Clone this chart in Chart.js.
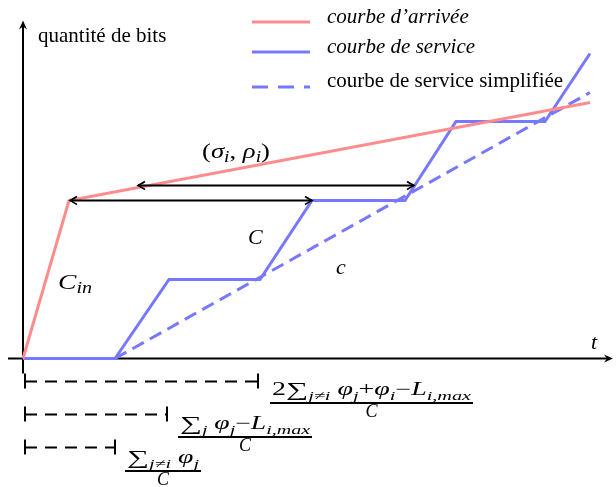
<!DOCTYPE html>
<html>
<head>
<meta charset="utf-8">
<script src="https://cdn.jsdelivr.net/npm/chart.js@4.4.1/dist/chart.umd.min.js"></script>
<style>
  body { margin: 0; background: #fff; }
  #wrap { width: 616px; height: 487px; }
</style>
</head>
<body>
<div id="wrap"><canvas id="courbes"></canvas></div>
<script>
// curves (x = time, y = bits), origin at the axes crossing
var arriveeX = [0, 46, 567];
var arriveeY = [0, 158, 256];
var serviceX = [0, 92, 146, 237, 289, 382, 433, 522, 567];
var serviceY = [0, 0, 79, 79, 158, 158, 237, 237, 305];
var simpleX = [92, 567];
var simpleY = [0, 266];

// double arrows between the curves
var fleches = [
  { x1: 47, x2: 289, y: 158 },
  { x1: 115, x2: 391, y: 173 }
];
// delay brackets under the time axis
var delaisX = [235, 144, 92];
var delaisY = [-23, -56, -89];

var legendeTextes = ['courbe d\u2019arrivée', 'courbe de service', 'courbe de service simplifiée'];

var rouge = 'rgb(255,140,140)';
var bleu = 'rgb(120,120,255)';

function pts(xs, ys) {
  return xs.map(function(x, i) { return { x: x, y: ys[i] }; });
}

var SERIF = '"Liberation Serif", "DejaVu Serif", serif';

function runFont(s, size) {
  if (s === 'r') return size + 'px ' + SERIF;
  if (s === 'i') return 'italic ' + size + 'px ' + SERIF;
  if (s === 'S') return Math.round(size * 1.1) + 'px ' + SERIF;
  return 'italic ' + Math.round(size * 0.72) + 'px ' + SERIF;
}

function runsWidth(ctx, runs, size) {
  var w = 0;
  runs.forEach(function(r) { ctx.font = runFont(r[1], size); w += ctx.measureText(r[0]).width; });
  return w;
}

// draws math-like text, fitted horizontally to the given width
function drawRuns(ctx, runs, x, y, size, width) {
  var w = runsWidth(ctx, runs, size);
  var k = width ? width / w : 1;
  ctx.save();
  ctx.translate(x, y);
  ctx.scale(k, 1);
  var cx = 0;
  runs.forEach(function(r) {
    var s = r[1];
    ctx.font = runFont(s, size);
    var dy = s === 's' ? size * 0.28 : (s === 'S' ? 1 : 0);
    ctx.fillText(r[0], cx, dy);
    cx += ctx.measureText(r[0]).width;
  });
  ctx.restore();
}

function arrowHead(ctx, x, y, dir) {
  ctx.beginPath();
  ctx.moveTo(x + dir * 7, y - 4);
  ctx.quadraticCurveTo(x + dir * 2, y - 1, x, y);
  ctx.quadraticCurveTo(x + dir * 2, y + 1, x + dir * 7, y + 4);
  ctx.stroke();
}

function stealth(ctx, x, y, angle) {
  ctx.save();
  ctx.translate(x, y);
  ctx.rotate(angle);
  ctx.beginPath();
  ctx.moveTo(0, 0);
  ctx.lineTo(-9, -4);
  ctx.lineTo(-6, 0);
  ctx.lineTo(-9, 4);
  ctx.closePath();
  ctx.fill();
  ctx.restore();
}

var decor = {
  id: 'decor',
  beforeDatasetsDraw: function(chart) {
    var ctx = chart.ctx, sx = chart.scales.x, sy = chart.scales.y;
    var ox = sx.getPixelForValue(0), oy = sy.getPixelForValue(0);
    ctx.save();
    ctx.strokeStyle = '#000';
    ctx.fillStyle = '#000';
    ctx.lineWidth = 2;
    // y axis
    var top = sy.getPixelForValue(338);
    ctx.beginPath(); ctx.moveTo(ox, sy.getPixelForValue(-15)); ctx.lineTo(ox, top + 4); ctx.stroke();
    stealth(ctx, ox, top, -Math.PI / 2);
    // x axis
    var right = sx.getPixelForValue(590);
    ctx.beginPath(); ctx.moveTo(sx.getPixelForValue(-15), oy); ctx.lineTo(right - 4, oy); ctx.stroke();
    stealth(ctx, right, oy, 0);
    ctx.restore();
  },
  afterDatasetsDraw: function(chart) {
    var ctx = chart.ctx, sx = chart.scales.x, sy = chart.scales.y;
    ctx.save();
    ctx.strokeStyle = '#000';
    ctx.fillStyle = '#000';
    ctx.lineWidth = 2;
    fleches.forEach(function(f) {
      var a = sx.getPixelForValue(f.x1), b = sx.getPixelForValue(f.x2), y = sy.getPixelForValue(f.y);
      ctx.beginPath(); ctx.moveTo(a, y); ctx.lineTo(b, y); ctx.stroke();
      ctx.lineWidth = 1.5;
      arrowHead(ctx, a, y, 1);
      arrowHead(ctx, b, y, -1);
      ctx.lineWidth = 2;
    });

    // brackets
    var x0 = sx.getPixelForValue(2);
    delaisX.forEach(function(d, i) {
      var y = sy.getPixelForValue(delaisY[i]), x1 = sx.getPixelForValue(d);
      ctx.setLineDash([]);
      ctx.beginPath();
      ctx.moveTo(x0, y - 8); ctx.lineTo(x0, y + 7);
      ctx.moveTo(x1, y - 8); ctx.lineTo(x1, y + 7);
      ctx.stroke();
      ctx.setLineDash([12, 8]);
      ctx.beginPath(); ctx.moveTo(x0, y); ctx.lineTo(x1, y); ctx.stroke();
    });
    ctx.setLineDash([]);

    // fractions
    ctx.textBaseline = 'alphabetic';
    var fractions = [
      { left: 270, right: 473, num: 395, bar: 403, den: 417,
        runs: [['2', 'r'], ['\u2211', 'S'], ['j\u2260i', 's'], [' ', 'r'], ['\u03c6', 'i'], ['j', 's'], ['+', 'r'], ['\u03c6', 'i'], ['i', 's'], ['\u2212', 'r'], ['L', 'i'], ['i,max', 's']] },
      { left: 178, right: 312, num: 429, bar: 437, den: 451,
        runs: [['\u2211', 'S'], ['j', 's'], [' ', 'r'], ['\u03c6', 'i'], ['j', 's'], ['\u2212', 'r'], ['L', 'i'], ['i,max', 's']] },
      { left: 125, right: 201, num: 463, bar: 471, den: 485,
        runs: [['\u2211', 'S'], ['j\u2260i', 's'], [' ', 'r'], ['\u03c6', 'i'], ['j', 's']] }
    ];
    fractions.forEach(function(f) {
      drawRuns(ctx, f.runs, f.left + 2, f.num, 18, f.right - f.left - 4);
      ctx.lineWidth = 2;
      ctx.beginPath(); ctx.moveTo(f.left, f.bar); ctx.lineTo(f.right, f.bar); ctx.stroke();
      ctx.font = 'italic 18px ' + SERIF;
      ctx.textAlign = 'center';
      ctx.fillText('C', (f.left + f.right) / 2, f.den);
      ctx.textAlign = 'left';
    });

    // labels
    ctx.textBaseline = 'middle';
    ctx.font = '21px ' + SERIF;
    ctx.fillText('quantité de bits', 38, 36);
    drawRuns(ctx, [['(', 'r'], ['\u03c3', 'i'], ['i', 's'], [', ', 'r'], ['\u03c1', 'i'], ['i', 's'], [')', 'r']], 202, 152, 22, 68);
    ctx.font = 'italic 22px ' + SERIF;
    ctx.fillText('C', 248, 238);
    ctx.fillText('c', 336, 268);
    ctx.fillText('t', 591, 343);
    drawRuns(ctx, [['C', 'i'], ['in', 's']], 58, 283, 22, 34);

    // legend
    var ly = [22, 52, 87], ty = [17, 47, 81];
    var styles = [[rouge, []], [bleu, []], [bleu, [16, 10]]];
    ctx.lineWidth = 3;
    legendeTextes.forEach(function(t, i) {
      ctx.strokeStyle = styles[i][0];
      ctx.setLineDash(styles[i][1]);
      ctx.beginPath(); ctx.moveTo(252, ly[i]); ctx.lineTo(310, ly[i]); ctx.stroke();
      ctx.font = (i < 2 ? 'italic ' : '') + '21px ' + SERIF;
      ctx.fillText(t, 327, ty[i]);
    });
    ctx.restore();
  }
};

new Chart(document.getElementById('courbes'), {
  type: 'scatter',
  data: {
    datasets: [
      { label: legendeTextes[0], data: pts(arriveeX, arriveeY), showLine: true, borderColor: rouge, borderWidth: 3, pointRadius: 0 },
      { label: legendeTextes[1], data: pts(serviceX, serviceY), showLine: true, borderColor: bleu, borderWidth: 3, pointRadius: 0 },
      { label: legendeTextes[2], data: pts(simpleX, simpleY), showLine: true, borderColor: bleu, borderWidth: 3, borderDash: [13, 7], pointRadius: 0 }
    ]
  },
  options: {
    responsive: true,
    maintainAspectRatio: false,
    animation: false,
    layout: { padding: 0 },
    scales: {
      x: { type: 'linear', min: -23, max: 593, display: false },
      y: { type: 'linear', min: -128.5, max: 358.5, display: false }
    },
    plugins: {
      legend: { display: false },
      tooltip: { enabled: false }
    },
    events: []
  },
  plugins: [decor]
});
</script>
</body>
</html>
